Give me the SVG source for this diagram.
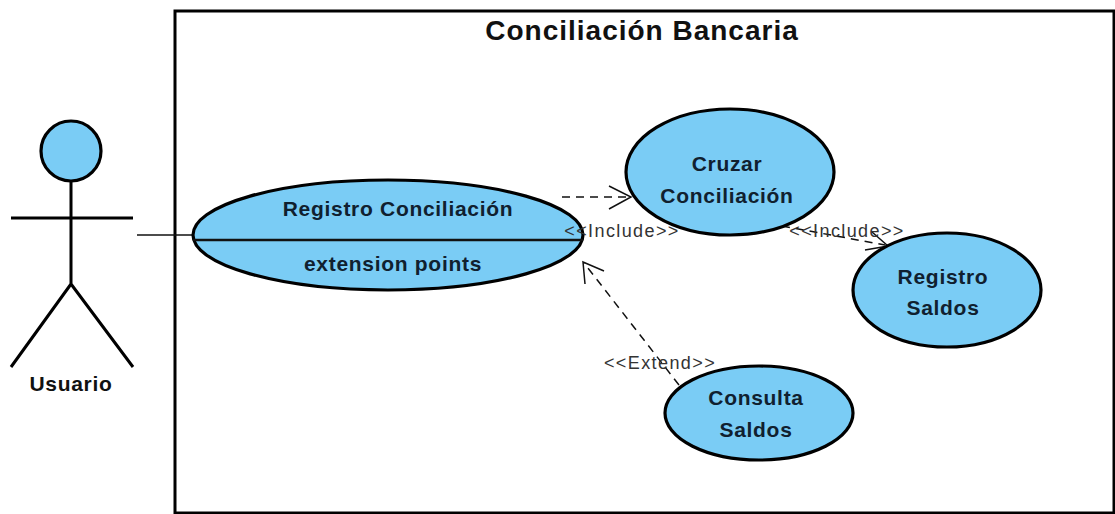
<svg xmlns="http://www.w3.org/2000/svg" width="1115" height="514" viewBox="0 0 1115 514">
<style>
.n{fill:#7accf5;stroke:#000;stroke-width:3.2}
.l{fill:none;stroke:#000;stroke-width:3}
.c{fill:none;stroke:#111;stroke-width:1.5}
.d{stroke-dasharray:8 6}
text{font-family:"Liberation Sans",Arial,sans-serif;fill:#111;text-anchor:middle}
.b{font-weight:bold;font-size:21px;letter-spacing:.7px;fill:#10202f}
.s{font-size:18px;letter-spacing:1.4px;fill:#333}
</style>
<rect width="1115" height="514" fill="#fff"/>
<g id="boundary">
<rect x="175" y="11" width="939" height="502" fill="#fff" stroke="#000" stroke-width="3"/>
<text x="642" y="40" font-weight="bold" font-size="28px" letter-spacing="1">Conciliación Bancaria</text>
</g>
<g id="usuario">
<circle class="n" cx="71" cy="151" r="30"/>
<path class="l" d="M71 181V284M11 218H133M71 284L11 367M71 284L133 367"/>
<text class="b" x="71" y="391" style="fill:#111">Usuario</text>
</g>
<g id="connectors">
<path class="c" d="M137 235H194"/>
<path class="c d" d="M562 197H628"/>
<path class="c" d="M609 186L631 197L609 209"/>
<path class="c d" d="M782 226L885 245"/>
<path class="c" d="M872 232L888 246L865 250"/>
<path class="c d" d="M679 385L584 263"/>
<path class="c" d="M585 284L583 262L604 271"/>
</g>
<g id="registro-conciliacion">
<ellipse class="n" cx="388" cy="235" rx="195" ry="55"/>
<path class="c" style="stroke-width:2.4" d="M193 240H583"/>
<text class="b" x="398" y="216">Registro Conciliación</text>
<text class="b" x="393" y="271">extension points</text>
</g>
<g id="cruzar-conciliacion">
<ellipse class="n" cx="730" cy="172" rx="104" ry="63"/>
<text class="b" x="727" y="171">Cruzar</text>
<text class="b" x="727" y="203">Conciliación</text>
</g>
<g id="registro-saldos">
<ellipse class="n" cx="947" cy="290" rx="94" ry="57"/>
<text class="b" x="943" y="284">Registro</text>
<text class="b" x="943" y="315">Saldos</text>
</g>
<g id="consulta-saldos">
<ellipse class="n" cx="759" cy="413" rx="94" ry="47"/>
<text class="b" x="756" y="405">Consulta</text>
<text class="b" x="756" y="437">Saldos</text>
</g>
<text class="s" x="622" y="237">&lt;&lt;Include&gt;&gt;</text>
<text class="s" x="847" y="237">&lt;&lt;Include&gt;&gt;</text>
<text class="s" x="660" y="369">&lt;&lt;Extend&gt;&gt;</text>
</svg>
